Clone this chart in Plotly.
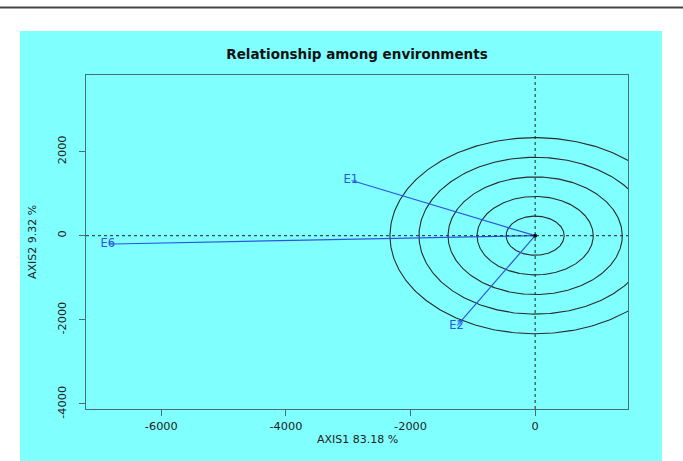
import numpy as np
import plotly.graph_objects as go

# Environment vectors (biplot coordinates)
env_names = ["E1", "E2", "E6"]
axis1 = [-2960, -1260, -6860]
axis2 = [1320, -2150, -200]

# Concentric distance circles around the origin
circle_radii = [466, 932, 1398, 1864, 2330]

x_ticks = [-6000, -4000, -2000, 0]
x_tick_text = ["-6000", "-4000", "-2000", "0"]
y_ticks = [-4000, -2000, 0, 2000]
y_tick_text = ["-4000", "-2000", "0", "2000"]
x_range = [-7208, 1490]
y_range = [-4119, 3819]

FONT = "DejaVu Sans"
BLUE = "#2f55dd"
FRAME = "#4a6f72"

fig = go.Figure()

theta = np.linspace(0, 2 * np.pi, 361)
for r in circle_radii:
    fig.add_trace(go.Scatter(
        x=r * np.cos(theta), y=r * np.sin(theta), mode="lines",
        line=dict(color="#2a2a2a", width=1.1), hoverinfo="skip", showlegend=False,
    ))

for name, x, y in zip(env_names, axis1, axis2):
    fig.add_trace(go.Scatter(
        x=[0, x], y=[0, y], mode="lines+markers",
        line=dict(color=BLUE, width=1.2),
        marker=dict(symbol=["circle", "arrow"], size=[0, 6], color=BLUE,
                    angleref="previous", line=dict(width=0)),
        showlegend=False, hoverinfo="skip",
    ))

fig.add_trace(go.Scatter(
    x=axis1, y=axis2, mode="text", text=env_names,
    textposition="middle center",
    textfont=dict(family=FONT, size=11.5, color=BLUE),
    showlegend=False, hoverinfo="skip",
))

# origin
fig.add_trace(go.Scatter(
    x=[0], y=[0], mode="markers",
    marker=dict(color="black", size=4), showlegend=False, hoverinfo="skip",
))

shapes = [
    # cyan panel
    dict(type="rect", xref="paper", yref="paper",
         x0=(20 - 86) / 542, x1=(662 - 86) / 542,
         y0=(409 - 470) / 334, y1=(409 - 31) / 334,
         fillcolor="#80ffff", line=dict(width=0), layer="below"),
    # rule along the top
    dict(type="line", xref="paper", yref="paper",
         x0=-86 / 542, x1=(683 - 86) / 542,
         y0=(409 - 7.5) / 334, y1=(409 - 7.5) / 334,
         line=dict(color="#444444", width=2)),
    # reference axes through the origin
    dict(type="line", xref="x", yref="paper", x0=0, x1=0, y0=0, y1=1,
         line=dict(color="#222222", width=1, dash="dot")),
    dict(type="line", xref="paper", yref="y", x0=0, x1=1, y0=0, y1=0,
         line=dict(color="#222222", width=1, dash="dot")),
]

annotations = [
    dict(text="AXIS1 83.18 %", xref="paper", yref="paper", x=0.5,
         y=(409 - 440) / 334, showarrow=False, yanchor="middle",
         font=dict(family=FONT, size=11, color="#222222")),
    dict(text="AXIS2 9.32 %", xref="paper", yref="paper",
         x=(32 - 86) / 542, y=0.5, textangle=-90, showarrow=False,
         xanchor="center", yanchor="middle",
         font=dict(family=FONT, size=11, color="#222222")),
]

axis_common = dict(
    showgrid=False, zeroline=False, showline=True, mirror=True,
    linecolor=FRAME, linewidth=1.3, ticks="outside", ticklen=6,
    tickcolor=FRAME, tickwidth=1,
    tickfont=dict(family=FONT, size=11.3, color="#222222"),
)

fig.update_layout(
    width=683, height=461,
    margin=dict(l=86, r=55, t=75, b=52),
    paper_bgcolor="white", plot_bgcolor="#80ffff",
    title=dict(text="<b>Relationship among environments</b>",
               x=0.5, xref="paper", xanchor="center",
               y=(461 - 54) / 461, yanchor="middle",
               font=dict(family=FONT, size=13.5, color="#111111")),
    xaxis=dict(range=x_range, tickvals=x_ticks, ticktext=x_tick_text,
               **axis_common),
    yaxis=dict(range=y_range, tickvals=y_ticks, ticktext=y_tick_text,
               tickangle=-90, ticklabelstandoff=8, **axis_common),
    shapes=shapes, annotations=annotations,
)

fig.write_html("out.html")
